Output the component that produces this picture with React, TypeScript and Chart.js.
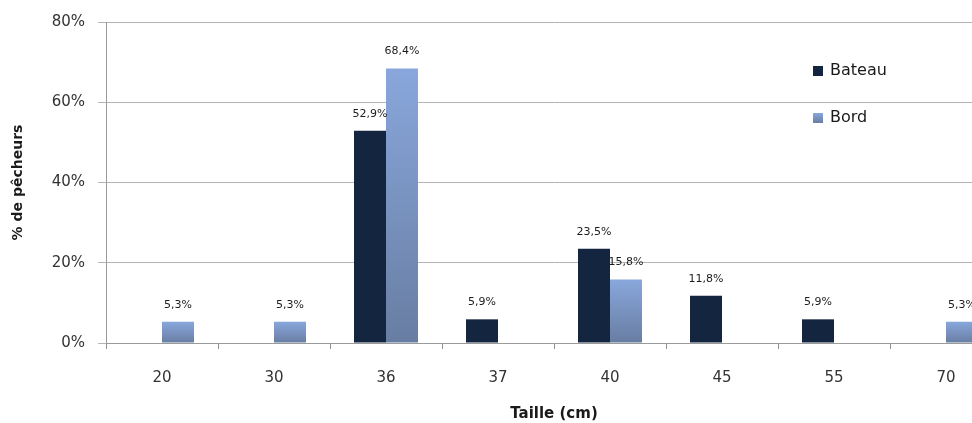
import React, { useEffect, useRef } from "react";
import { Chart, registerables } from "chart.js";

Chart.register(...registerables);

const categories = ["20", "30", "36", "37", "40", "45", "55", "70"];
const bateauValues = [0, 0, 52.9, 5.9, 23.5, 11.8, 5.9, 0];
const bordValues = [5.3, 5.3, 68.4, 0, 15.8, 0, 0, 5.3];
const seriesNames = ["Bateau", "Bord"];
const yTicks = [0, 20, 40, 60, 80];

const BATEAU_COLOR = "#14263f";
const BORD_TOP = "#89a7dc";
const BORD_BOTTOM = "#687da2";
const FONT = "'DejaVu Sans', sans-serif";

function bordGradient(c: CanvasRenderingContext2D, top: number, bottom: number) {
  const g = c.createLinearGradient(0, top, 0, bottom);
  g.addColorStop(0, BORD_TOP);
  g.addColorStop(1, BORD_BOTTOM);
  return g;
}

const dataLabelPlugin = {
  id: "dataLabels",
  afterDatasetsDraw(chart: any) {
    const c = chart.ctx as CanvasRenderingContext2D;
    c.save();
    c.font = `11px ${FONT}`;
    c.fillStyle = "#1c1c1c";
    c.textAlign = "center";
    c.textBaseline = "middle";
    chart.data.datasets.forEach((ds: any, di: number) => {
      const meta = chart.getDatasetMeta(di);
      meta.data.forEach((bar: any, i: number) => {
        const v = ds.data[i];
        if (!v) return;
        const txt = v.toFixed(1).replace(".", ",") + "%";
        c.fillText(txt, bar.x, bar.y - 17);
      });
    });
    c.restore();
  },
};

const legendPlugin = {
  id: "customLegend",
  afterDraw(chart: any) {
    const c = chart.ctx as CanvasRenderingContext2D;
    const x = 813;
    const ys = [71, 118];
    c.save();
    c.font = `16px ${FONT}`;
    c.textBaseline = "middle";
    c.textAlign = "left";
    chart.data.datasets.forEach((ds: any, di: number) => {
      const y = ys[di];
      if (di === 0) c.fillStyle = BATEAU_COLOR;
      else c.fillStyle = bordGradient(c, y - 5, y + 5);
      c.fillRect(x, y - 5, 10, 10);
      c.fillStyle = "#1a1a1a";
      c.fillText(ds.label, x + 17, y);
    });
    c.restore();
  },
};

export default function App() {
  const canvasRef = useRef<HTMLCanvasElement | null>(null);

  useEffect(() => {
    if (!canvasRef.current) return;
    const chart = new Chart(canvasRef.current, {
      type: "bar",
      data: {
        labels: categories,
        datasets: [
          {
            label: seriesNames[0],
            data: bateauValues,
            backgroundColor: BATEAU_COLOR,
            categoryPercentage: 0.5714,
            barPercentage: 1,
          },
          {
            label: seriesNames[1],
            data: bordValues,
            backgroundColor: (ctx: any) => {
              const chart = ctx.chart;
              const y = chart.scales && chart.scales.y;
              if (!y || ctx.type !== "data") return "#7d96c4";
              const v = ctx.raw as number;
              const top = y.getPixelForValue(v);
              const bottom = y.getPixelForValue(0);
              if (!isFinite(top) || !isFinite(bottom) || top === bottom) return "#7d96c4";
              return bordGradient(chart.ctx, top, bottom);
            },
            categoryPercentage: 0.5714,
            barPercentage: 1,
          },
        ],
      },
      options: {
        responsive: false,
        animation: false,
        devicePixelRatio: 1,
        layout: { padding: { top: 22, right: 8, left: 0, bottom: 0 } },
        plugins: {
          legend: { display: false },
          tooltip: { enabled: false },
        },
        scales: {
          x: {
            grid: {
              display: true,
              drawOnChartArea: false,
              offset: true,
              tickLength: 6,
              color: "#8c8c8c",
            },
            border: { display: true, color: "#9a9a9a" },
            ticks: {
              font: { family: FONT, size: 15 },
              color: "#333333",
              padding: 20,
            },
            title: {
              display: true,
              text: "Taille (cm)",
              font: { family: FONT, size: 15, weight: "bold" },
              color: "#1a1a1a",
              padding: { top: 0, bottom: 0 },
            },
            afterFit(scale: any) {
              scale.height = 80;
            },
          },
          y: {
            min: 0,
            max: 80,
            afterBuildTicks(scale: any) {
              scale.ticks = yTicks.map((v) => ({ value: v }));
            },
            grid: {
              color: "#b4b4b4",
              tickLength: 8,
            },
            border: { display: true, color: "#9a9a9a" },
            ticks: {
              font: { family: FONT, size: 15 },
              color: "#333333",
              padding: 13,
              callback: (v: any) => v + "%",
            },
            title: {
              display: true,
              text: "% de pêcheurs",
              font: { family: FONT, size: 14, weight: "bold" },
              color: "#1a1a1a",
              padding: { top: 10, bottom: 0 },
            },
            afterFit(scale: any) {
              scale.width = 106;
            },
          },
        },
      },
      plugins: [dataLabelPlugin, legendPlugin],
    } as any);
    return () => chart.destroy();
  }, []);

  return (
    <div
      style={{
        position: "fixed",
        left: 0,
        top: 0,
        width: 972,
        height: 423,
        overflow: "hidden",
        background: "#ffffff",
      }}
    >
      <canvas ref={canvasRef} width={1010} height={423} style={{ display: "block" }} />
    </div>
  );
}
